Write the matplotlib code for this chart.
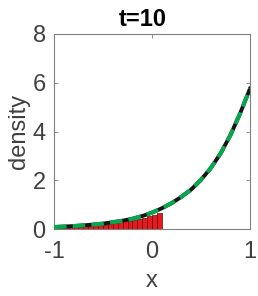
import matplotlib
matplotlib.use("Agg")
import matplotlib.pyplot as plt
import numpy as np

plt.rcParams['font.family'] = ['Liberation Sans', 'DejaVu Sans']

# density curve
curve_x = [-1.0, -0.9, -0.8, -0.7, -0.6, -0.5, -0.4, -0.3, -0.2, -0.1, 0.0,
           0.1, 0.2, 0.3, 0.4, 0.5, 0.6, 0.7, 0.8, 0.9, 1.0]
curve_y = [0.08, 0.10, 0.12, 0.15, 0.18, 0.22, 0.28, 0.34, 0.42, 0.53, 0.67,
           0.85, 1.06, 1.32, 1.62, 2.02, 2.50, 3.10, 3.85, 4.75, 5.76]

# histogram bars
bin_left = [-1.0, -0.95, -0.9, -0.85, -0.8, -0.75, -0.7, -0.65, -0.6, -0.55, -0.5,
            -0.45, -0.4, -0.35, -0.3, -0.25, -0.2, -0.15, -0.1, -0.05, 0.0, 0.05]
bin_height = [0.06, 0.07, 0.08, 0.09, 0.10, 0.11, 0.12, 0.13, 0.15, 0.16, 0.18,
              0.21, 0.23, 0.27, 0.31, 0.33, 0.37, 0.42, 0.47, 0.55, 0.58, 0.66]
bin_width = 0.05

xticks = [-1, 0, 1]
yticks = [0, 2, 4, 6, 8]

fig = plt.figure(figsize=(2.58, 2.96), dpi=100)
ax = fig.add_axes([54/258, 1-229/296, 196/258, 195/296])

ax.bar(bin_left, bin_height, width=bin_width, align='edge',
       color='#e8191e', edgecolor='#5a1010', linewidth=0.5, zorder=2)
ax.plot(curve_x, curve_y, color='#151515', lw=2.8, zorder=3)
ax.plot(curve_x, curve_y, color='#0aa64e', lw=3.0, dashes=(3.0, 1.5), zorder=4)

ax.set_xlim(-1, 1)
ax.set_ylim(0, 8)
ax.set_xticks(xticks)
ax.set_yticks(yticks)
ax.set_xticklabels(['-1', '0', '1'])
ax.tick_params(direction='in', length=3, width=0.6, color='#808080',
               labelsize=17, labelcolor='#404040', top=True, right=True)
ax.tick_params(axis='x', pad=9)
ax.tick_params(axis='y', pad=6)
for s in ax.spines.values():
    s.set_color('#808080')
    s.set_linewidth(0.8)

ax.set_xlabel('x', fontsize=17, color='#404040', labelpad=5)
ax.set_ylabel('density', fontsize=17, color='#404040', labelpad=2)
ax.set_title('t=10', fontsize=17, fontweight='bold', x=0.454, pad=6)

fig.savefig('out.png', dpi=100)
